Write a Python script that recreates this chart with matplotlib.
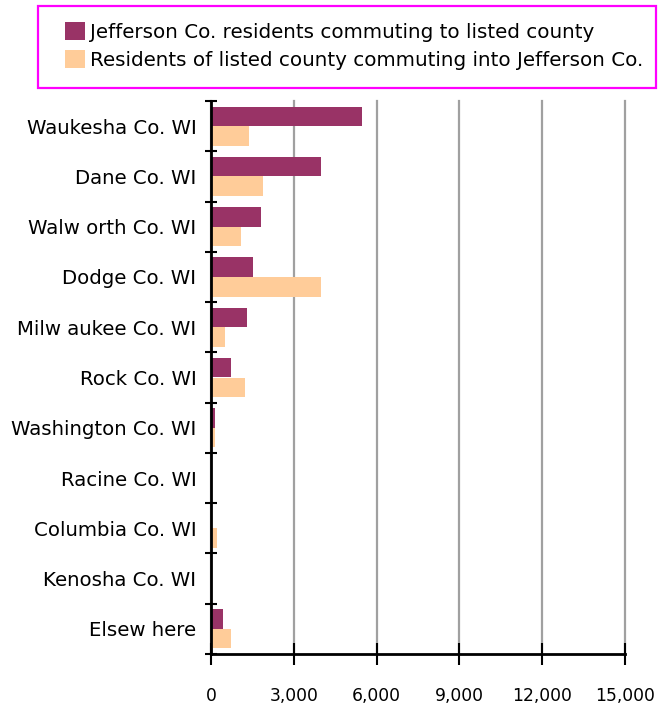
import numpy as np
import matplotlib
matplotlib.use("Agg")
import matplotlib.pyplot as plt
from matplotlib.patches import Rectangle

plt.rcParams['font.family'] = ['DejaVu Sans']

counties = ["Waukesha Co. WI", "Dane Co. WI", "Walw orth Co. WI", "Dodge Co. WI",
            "Milw aukee Co. WI", "Rock Co. WI", "Washington Co. WI", "Racine Co. WI",
            "Columbia Co. WI", "Kenosha Co. WI", "Elsew here"]
outbound = [5470, 3990, 1810, 1520, 1300, 720, 140, 0, 0, 0, 430]   # Jefferson residents -> county
inbound = [1380, 1880, 1090, 3990, 510, 1230, 140, 0, 200, 0, 720]  # county residents -> Jefferson
xticks = [0, 3000, 6000, 9000, 12000, 15000]

MAROON = "#993366"
PEACH = "#FFCC99"
W, H = 669, 706

fig = plt.figure(figsize=(W / 100, H / 100), dpi=100)
ax = fig.add_axes([211 / W, 1 - 654 / H, 414 / W, 553 / H])

n = len(counties)
pos = np.arange(n)
h = 0.39
b1 = ax.barh(pos - h / 2, outbound, height=h, color=MAROON,
             label="Jefferson Co. residents commuting to listed county", zorder=3)
b2 = ax.barh(pos + h / 2, inbound, height=h, color=PEACH,
             label="Residents of listed county commuting into Jefferson Co.", zorder=3)

ax.set_ylim(n - 0.5, -0.5)
ax.set_xlim(0, 15000)

# category labels at band centres, tick marks on the band edges
ax.set_yticks(pos)
ax.set_yticklabels(counties, fontsize=14.2)
ax.tick_params(axis='y', which='major', length=0, pad=10.5)
ax.set_yticks(np.arange(n + 1) - 0.5, minor=True)
ax.tick_params(axis='y', which='minor', direction='inout', length=9, width=1.5)

ax.set_xticks(xticks)
ax.set_xticklabels([f"{v:,}" for v in xticks], fontsize=12.3)
ax.tick_params(axis='x', direction='inout', length=16, width=1.5, pad=16)

ax.grid(axis='x', color='#a0a0a0', linewidth=1.6, zorder=0)
for gl in ax.get_xgridlines():
    gl.set_clip_on(False)
for s in ['top', 'right']:
    ax.spines[s].set_visible(False)
ax.spines['left'].set_linewidth(2)
ax.spines['bottom'].set_linewidth(2)
ax.spines['left'].set_zorder(4)

# legend box drawn separately so its size matches
fig.patches.append(Rectangle((38 / W, 1 - 88 / H), 618 / W, 82 / H, transform=fig.transFigure,
                             fill=False, edgecolor='#ff00ff', linewidth=1.6))
fig.legend(handles=[b1, b2], loc='center left', bbox_to_anchor=(65 / W, 1 - 46 / H),
           fontsize=14.3, frameon=False, handlelength=1.0, handleheight=1.0,
           handletextpad=0.25, borderpad=0, borderaxespad=0, labelspacing=0.42)

fig.savefig("out.png", dpi=100)
